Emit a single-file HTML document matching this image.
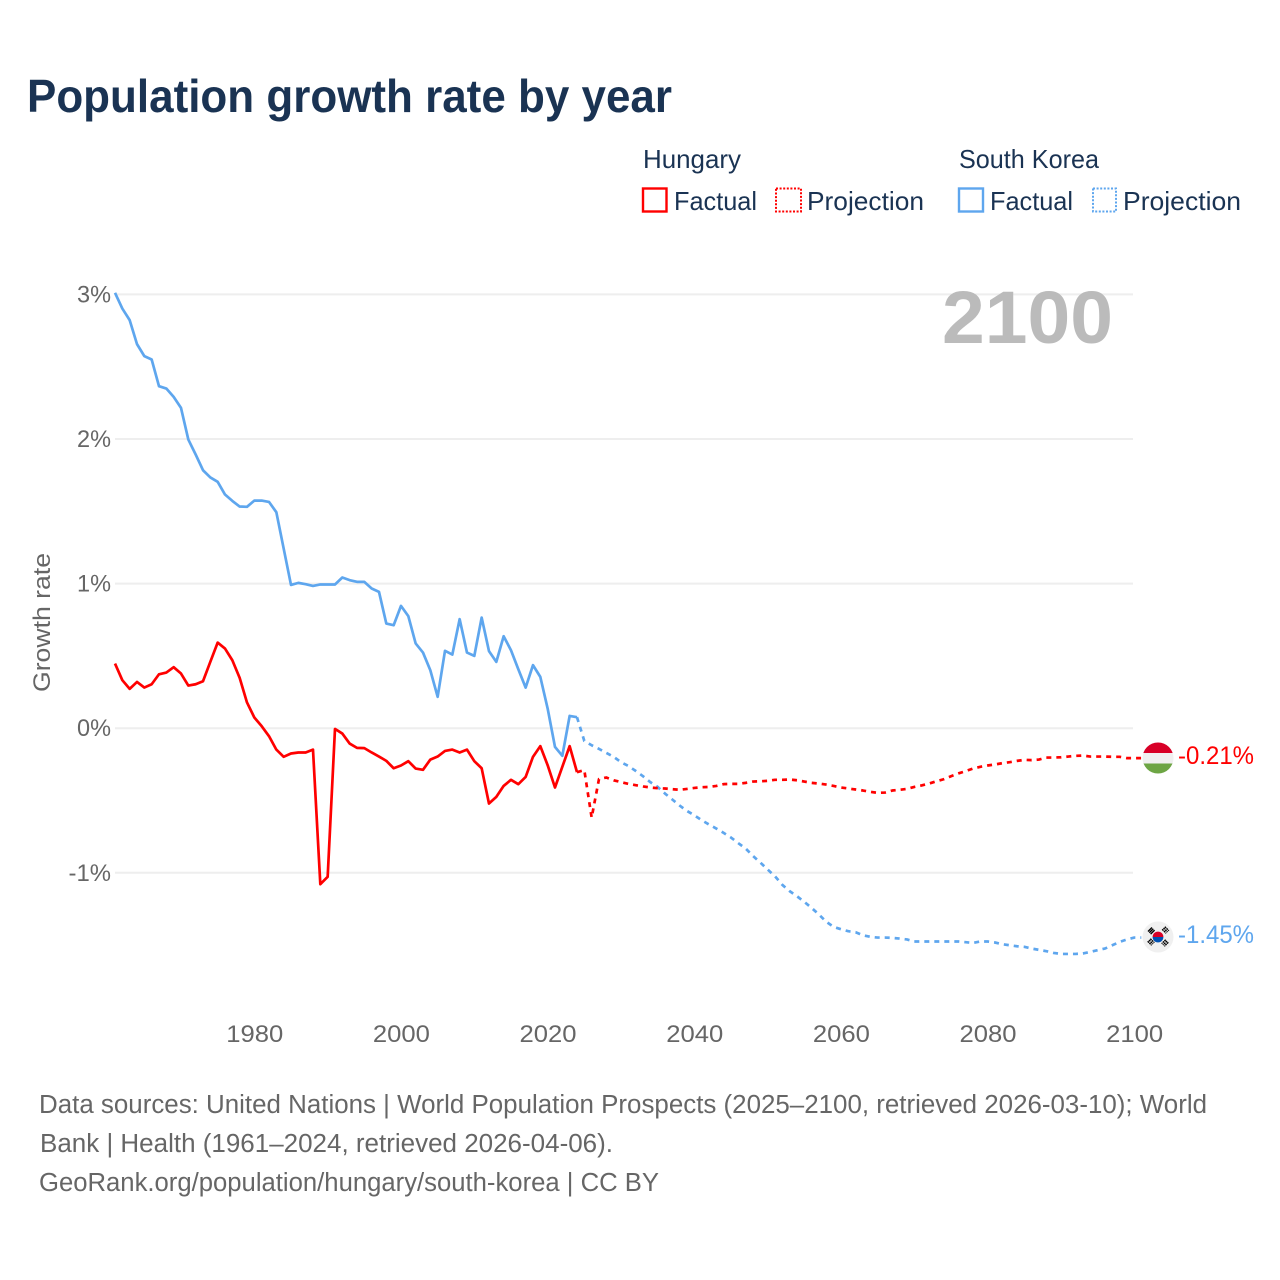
<!DOCTYPE html>
<html lang="en">
<head>
<meta charset="utf-8">
<title>Population growth rate by year</title>
<style>
html,body{margin:0;padding:0;background:#fff;}
svg{display:block;}
text{font-family:"Liberation Sans",sans-serif;}
</style>
</head>
<body>
<svg id="chart" xmlns="http://www.w3.org/2000/svg" width="1280" height="1280" viewBox="0 0 1280 1280">
  <rect width="1280" height="1280" fill="#ffffff"/>
  <text x="27" y="112" font-size="46" font-weight="700" fill="#1a3353" textLength="645" lengthAdjust="spacingAndGlyphs">Population growth rate by year</text>

  <g font-size="26" fill="#1a3353">
    <text x="643" y="168" textLength="98" lengthAdjust="spacingAndGlyphs">Hungary</text>
    <text x="959" y="168" textLength="140" lengthAdjust="spacingAndGlyphs">South Korea</text>
    <rect x="643" y="188.5" width="23.5" height="23" fill="none" stroke="#ff0000" stroke-width="2.4"/>
    <text x="674" y="210" textLength="83" lengthAdjust="spacingAndGlyphs">Factual</text>
    <rect x="776" y="188.5" width="25" height="23" fill="none" stroke="#ff0000" stroke-width="2" stroke-dasharray="2,1.6"/>
    <text x="807" y="210" textLength="117" lengthAdjust="spacingAndGlyphs">Projection</text>
    <rect x="959" y="188.5" width="24" height="23" fill="none" stroke="#5ea6ee" stroke-width="2.4"/>
    <text x="990" y="210" textLength="83" lengthAdjust="spacingAndGlyphs">Factual</text>
    <rect x="1093" y="188.5" width="23" height="23" fill="none" stroke="#5ea6ee" stroke-width="2" stroke-dasharray="2,1.6"/>
    <text x="1123" y="210" textLength="118" lengthAdjust="spacingAndGlyphs">Projection</text>
  </g>

  <g id="grid"></g>
  <g id="yticks" font-size="24" fill="#666666"></g>
  <g id="xticks" font-size="24" fill="#666666"></g>
  <text transform="translate(50,622.5) rotate(-90)" text-anchor="middle" font-size="24" fill="#666666" textLength="139" lengthAdjust="spacingAndGlyphs">Growth rate</text>
  <text x="1113" y="343" text-anchor="end" font-size="74" font-weight="700" fill="#bbbbbb" textLength="171" lengthAdjust="spacingAndGlyphs">2100</text>

  <g id="series"></g>

  <g>
    <clipPath id="clip-hu"><circle cx="1158" cy="758" r="15.5"/></clipPath>
    <g clip-path="url(#clip-hu)">
      <rect x="1142" y="742" width="32" height="11" fill="#d80027"/>
      <rect x="1142" y="753" width="32" height="10.5" fill="#f0f0f0"/>
      <rect x="1142" y="763.5" width="32" height="11" fill="#6da544"/>
    </g>
  </g>
  <text x="1178" y="764" font-size="25" fill="#ff0000" textLength="76" lengthAdjust="spacingAndGlyphs">-0.21%</text>

  <g>
    <circle cx="1158" cy="937" r="15.5" fill="#f0f0f0"/>
    <path d="M1152.6 937a5.4 5.4 0 0 1 10.8 0z" fill="#d80027"/>
    <path d="M1152.6 937a5.4 5.4 0 0 0 10.8 0z" fill="#0052b4"/>
    <g stroke="#000" stroke-width="1.4" fill="none">
      <path d="M1148 931.5l4-4M1149.3 932.8l4-4M1150.6 934.1l4-4"/>
      <path d="M1163.5 928l4 4M1162.2 929.3l4 4M1164.8 926.7l4 4" stroke-dasharray="1.8,0.6"/>
      <path d="M1149 940l4 4M1147.7 941.3l4 4M1150.3 938.7l4 4" stroke-dasharray="1.8,0.6"/>
      <path d="M1167 941l-4 4M1165.7 939.7l-4 4M1168.3 942.3l-4 4" stroke-dasharray="1.8,0.6"/>
    </g>
  </g>
  <text x="1178" y="943" font-size="25" fill="#5ea6ee" textLength="76" lengthAdjust="spacingAndGlyphs">-1.45%</text>

  <g font-size="25.5" fill="#666666">
    <text x="39" y="1113" textLength="1168" lengthAdjust="spacingAndGlyphs">Data sources: United Nations | World Population Prospects (2025–2100, retrieved 2026-03-10); World</text>
    <text x="40" y="1152" textLength="573" lengthAdjust="spacingAndGlyphs">Bank | Health (1961–2024, retrieved 2026-04-06).</text>
    <text x="39" y="1191" textLength="620" lengthAdjust="spacingAndGlyphs">GeoRank.org/population/hungary/south-korea | CC BY</text>
  </g>
</svg>
<script>
const xTickYears = [1980, 2000, 2020, 2040, 2060, 2080, 2100];
const yTickValues = [3, 2, 1, 0, -1];
const yTickLabels = ['3%', '2%', '1%', '0%', '-1%'];
const factualStartYear = 1961;
const projectionStartYear = 2025;

// Growth rate in percent, 1961-2024
const hungaryFactual = [
  0.447, 0.332, 0.272, 0.320, 0.281, 0.304, 0.373, 0.385, 0.422, 0.378,
  0.295, 0.304, 0.325, 0.459, 0.592, 0.551, 0.470, 0.348, 0.178, 0.074,
  0.014, -0.055, -0.148, -0.198, -0.175, -0.168, -0.168, -0.148, -1.079, -1.028,
  -0.005, -0.037, -0.106, -0.136, -0.138, -0.168, -0.196, -0.226, -0.277, -0.258,
  -0.228, -0.279, -0.288, -0.217, -0.196, -0.157, -0.148, -0.168, -0.148, -0.228,
  -0.277, -0.521, -0.475, -0.399, -0.357, -0.387, -0.337, -0.198, -0.124, -0.256,
  -0.410, -0.267, -0.124, -0.304
];
// Growth rate in percent, 2025-2100
const hungaryProjection = [
  -0.290, -0.618, -0.352, -0.341, -0.360, -0.373,
  -0.385, -0.394, -0.403, -0.410, -0.415, -0.417, -0.422, -0.426, -0.420, -0.413,
  -0.408, -0.406, -0.399, -0.387, -0.385, -0.385, -0.378, -0.369, -0.367, -0.364,
  -0.357, -0.357, -0.355, -0.360, -0.369, -0.378, -0.383, -0.390, -0.399, -0.410,
  -0.417, -0.424, -0.431, -0.440, -0.447, -0.445, -0.431, -0.426, -0.420, -0.406,
  -0.396, -0.383, -0.367, -0.353, -0.332, -0.313, -0.297, -0.279, -0.267, -0.258,
  -0.251, -0.242, -0.235, -0.226, -0.219, -0.221, -0.217, -0.203, -0.203, -0.201,
  -0.196, -0.191, -0.189, -0.196, -0.196, -0.196, -0.198, -0.198, -0.207, -0.207
];
// Growth rate in percent, 1961-2024
const koreaFactual = [
  3.011, 2.902, 2.822, 2.656, 2.573, 2.550, 2.365, 2.349, 2.291, 2.215,
  1.996, 1.893, 1.784, 1.734, 1.704, 1.616, 1.572, 1.533, 1.531, 1.574,
  1.574, 1.565, 1.494, 1.243, 0.991, 1.005, 0.996, 0.984, 0.994, 0.994,
  0.994, 1.042, 1.024, 1.012, 1.012, 0.966, 0.943, 0.724, 0.712, 0.846,
  0.775, 0.586, 0.523, 0.401, 0.217, 0.535, 0.509, 0.754, 0.523, 0.500,
  0.765, 0.533, 0.459, 0.636, 0.539, 0.408, 0.281, 0.436, 0.355, 0.136,
  -0.129, -0.191, 0.085, 0.076
];
// Growth rate in percent, 2025-2100
const koreaProjection = [
  -0.088, -0.118, -0.143, -0.171, -0.198, -0.235,
  -0.261, -0.295, -0.332, -0.373, -0.406, -0.452, -0.493, -0.535, -0.572, -0.602,
  -0.636, -0.666, -0.694, -0.724, -0.756, -0.795, -0.832, -0.883, -0.929, -0.977,
  -1.024, -1.083, -1.127, -1.162, -1.201, -1.243, -1.289, -1.339, -1.374, -1.390,
  -1.404, -1.411, -1.432, -1.443, -1.448, -1.448, -1.450, -1.455, -1.461, -1.475,
  -1.475, -1.475, -1.475, -1.475, -1.475, -1.475, -1.480, -1.485, -1.475, -1.475,
  -1.482, -1.494, -1.501, -1.508, -1.512, -1.524, -1.533, -1.542, -1.554, -1.561,
  -1.561, -1.561, -1.558, -1.547, -1.535, -1.524, -1.501, -1.478, -1.461, -1.448
];

const NS = 'http://www.w3.org/2000/svg';
function xScale(year) { return 115 + (year - 1961) * 7.333; }
function yScale(v) { return 728.2 - v * 144.6; }
function pathFrom(values, startYear) {
  return values.map(function (v, i) {
    return (i ? 'L' : 'M') + xScale(startYear + i).toFixed(2) + ' ' + yScale(v).toFixed(2);
  }).join(' ');
}

const grid = document.getElementById('grid');
const yticks = document.getElementById('yticks');
yTickValues.forEach(function (v, i) {
  const line = document.createElementNS(NS, 'line');
  
  
  line.setAttribute('x1', 115);
  line.setAttribute('x2', 1133);
  line.setAttribute('y1', yScale(v));
  line.setAttribute('y2', yScale(v));
  line.setAttribute('stroke', '#eeeeee');
  line.setAttribute('stroke-width', 2);
  grid.appendChild(line);

  const label = document.createElementNS(NS, 'text');
  
  
  label.setAttribute('x', 111);
  label.setAttribute('y', yScale(v) + 8);
  label.setAttribute('text-anchor', 'end');
  label.setAttribute('textLength', yTickLabels[i].length * 11.5 + (v < 0 ? 8 : 11));
  label.setAttribute('lengthAdjust', 'spacingAndGlyphs');
  label.textContent = yTickLabels[i];
  yticks.appendChild(label);
});

const xticks = document.getElementById('xticks');
xTickYears.forEach(function (year) {
  const label = document.createElementNS(NS, 'text');
  
  
  label.setAttribute('x', xScale(year) + 0.4);
  label.setAttribute('y', 1042);
  label.setAttribute('text-anchor', 'middle');
  label.setAttribute('textLength', 57);
  label.setAttribute('lengthAdjust', 'spacingAndGlyphs');
  label.textContent = String(year);
  xticks.appendChild(label);
});

const series = document.getElementById('series');
function addLine(d, colour, dashed, name) {
  const p = document.createElementNS(NS, 'path');
  
  
  p.setAttribute('d', d);
  p.setAttribute('fill', 'none');
  p.setAttribute('stroke', colour);
  p.setAttribute('stroke-width', 2.7);
  p.setAttribute('stroke-linejoin', 'round');
  if (dashed) p.setAttribute('stroke-dasharray', '5,5');
  series.appendChild(p);
}
function projectionPath(factual, projection) {
  const last = factual[factual.length - 1];
  const joined = [last].concat(projection);
  const end = projection[projection.length - 1];
  return pathFrom(joined, projectionStartYear - 1) + ' L' + (xScale(2100) + 7) + ' ' + yScale(end).toFixed(2);
}
addLine(pathFrom(koreaFactual, factualStartYear), '#5ea6ee', false, 'korea-factual-line');
addLine(projectionPath(koreaFactual, koreaProjection), '#5ea6ee', true, 'korea-projection-line');
addLine(pathFrom(hungaryFactual, factualStartYear), '#ff0000', false, 'hungary-factual-line');
addLine(projectionPath(hungaryFactual, hungaryProjection), '#ff0000', true, 'hungary-projection-line');
</script>
</body>
</html>
